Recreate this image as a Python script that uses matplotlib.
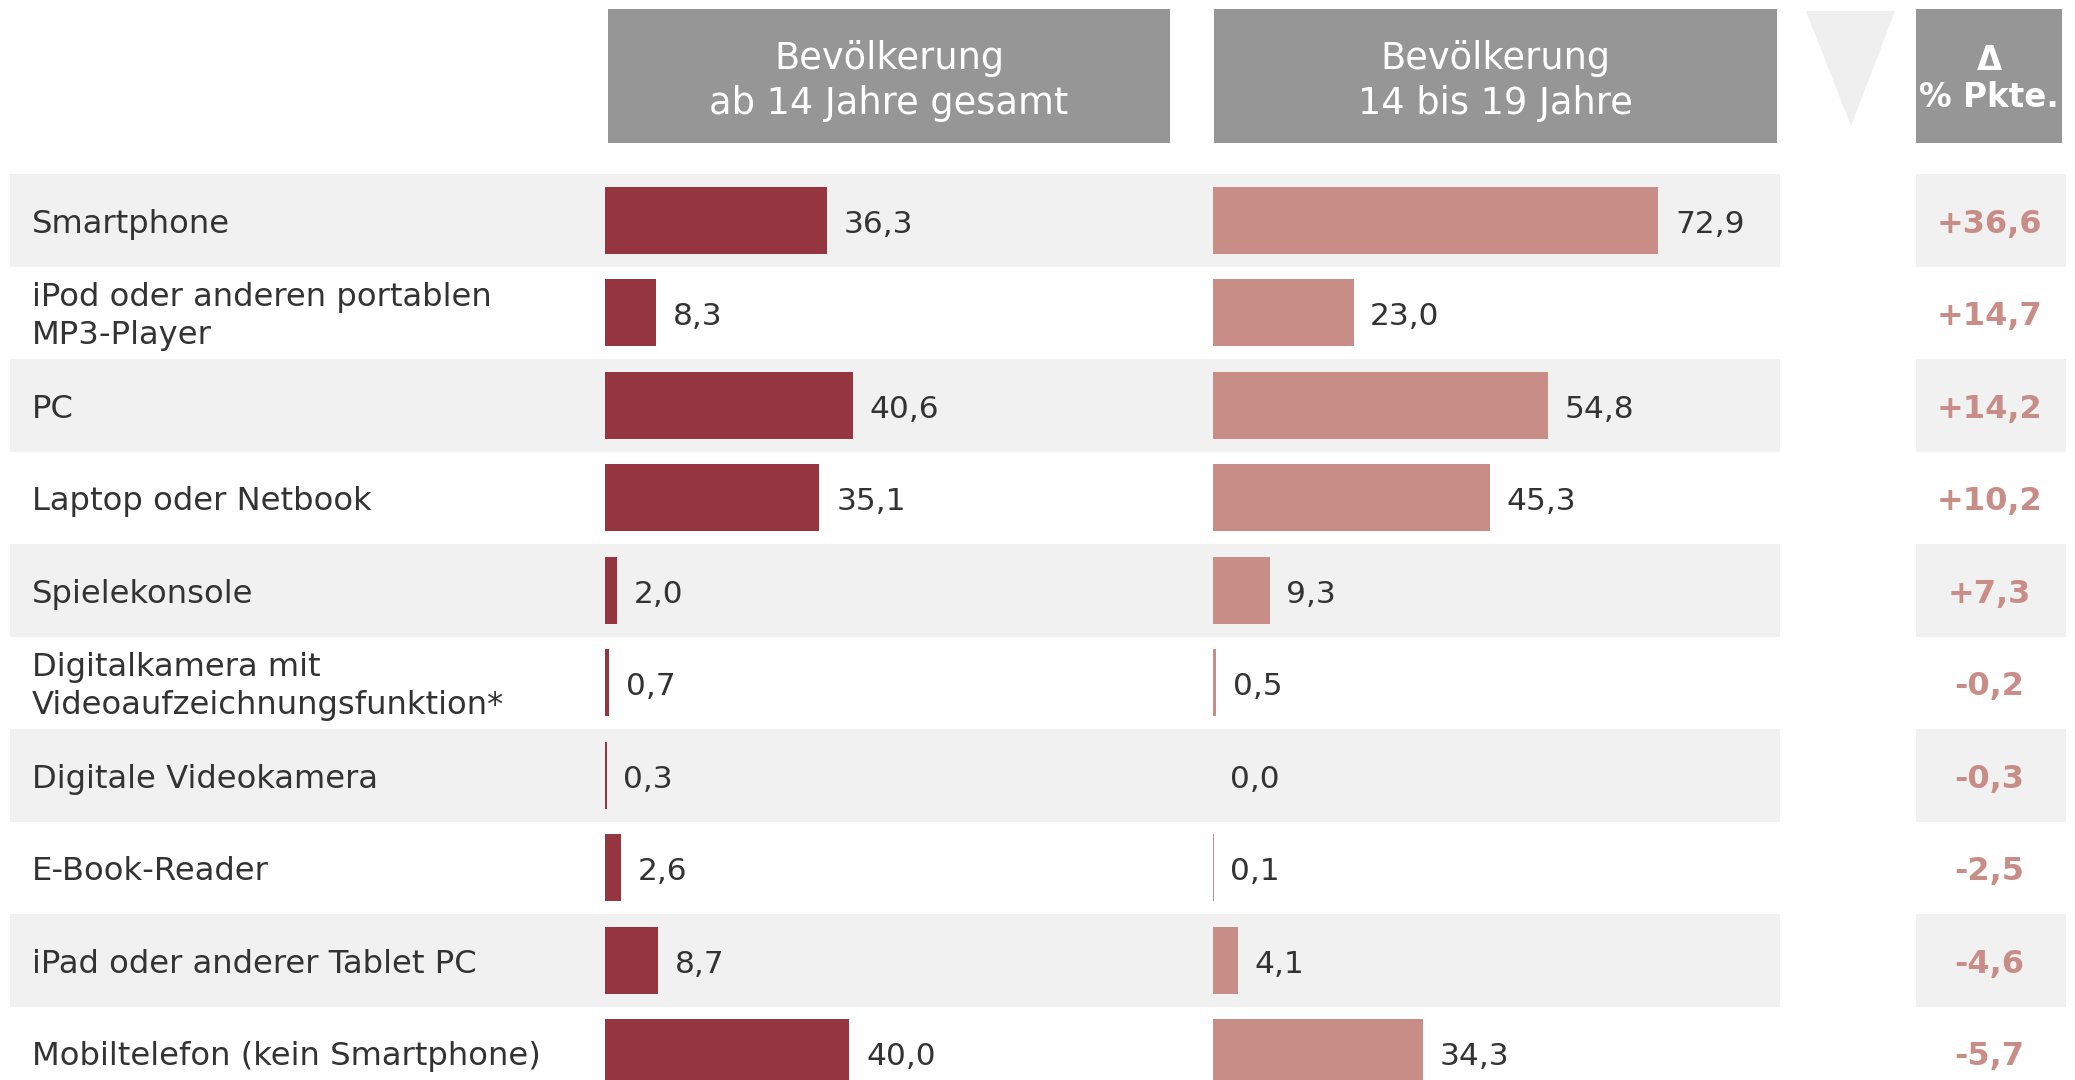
import matplotlib.pyplot as plt
from matplotlib.patches import Rectangle, Polygon

categories = [
    'Smartphone',
    'iPod oder anderen portablen\nMP3-Player',
    'PC',
    'Laptop oder Netbook',
    'Spielekonsole',
    'Digitalkamera mit\nVideoaufzeichnungsfunktion*',
    'Digitale Videokamera',
    'E-Book-Reader',
    'iPad oder anderer Tablet PC',
    'Mobiltelefon (kein Smartphone)',
]
gesamt = [36.3, 8.3, 40.6, 35.1, 2.0, 0.7, 0.3, 2.6, 8.7, 40.0]
jugend = [72.9, 23.0, 54.8, 45.3, 9.3, 0.5, 0.0, 0.1, 4.1, 34.3]
delta = [36.6, 14.7, 14.2, 10.2, 7.3, -0.2, -0.3, -2.5, -4.6, -5.7]
headers = ['Bevölkerung\nab 14 Jahre gesamt', 'Bevölkerung\n14 bis 19 Jahre']

W, H = 2075, 1080
DARK = '#943540'
LIGHT = '#c98d87'
BAND = '#f1f1f1'
HEAD = '#959695'
TXT = '#333333'

plt.rcParams['font.family'] = ['DejaVu Sans']
fig = plt.figure(figsize=(W / 100, H / 100), dpi=100)

# background layer in pixel coordinates
bg = fig.add_axes([0, 0, 1, 1])
bg.set_xlim(0, W)
bg.set_ylim(H, 0)
bg.axis('off')

row_top, row_h = 174, 92.5
n = len(categories)
for i in range(n):
    y0 = row_top + i * row_h
    yc = y0 + row_h / 2 + 4
    if i % 2 == 0:
        bg.add_patch(Rectangle((10, y0), 1770, row_h, color=BAND, lw=0))
        bg.add_patch(Rectangle((1916, y0), 150, row_h, color=BAND, lw=0))
    bg.text(32, yc, categories[i], ha='left', va='center',
            fontsize=23.2, color=TXT, linespacing=1.3)
    bg.text(1989, yc, f'{delta[i]:+.1f}'.replace('.', ','),
            ha='center', va='center', fontsize=23, fontweight='bold', color=LIGHT)

# header boxes
for x0, x1, txt in [(608, 1170, headers[0]), (1214, 1777, headers[1])]:
    bg.add_patch(Rectangle((x0, 9), x1 - x0, 134, color=HEAD, lw=0))
    bg.text((x0 + x1) / 2, 81, txt, ha='center', va='center', fontsize=26.5,
            color='white', linespacing=1.25)
bg.add_patch(Rectangle((1916, 9), 146, 134, color=HEAD, lw=0))
bg.text(1989, 79, 'Δ\n% Pkte.', ha='center', va='center', fontsize=23.5,
        fontweight='bold', color='white', linespacing=1.18)
bg.add_patch(Polygon([(1806, 11), (1895, 11), (1851, 126)], color='#efefef', lw=0))

# bar panels, same scale (px per percent point)
scale = 6.11
y_pos = list(range(n))
for left, right, vals, col in [(605, 1170, gesamt, DARK), (1213, 1780, jugend, LIGHT)]:
    ax = fig.add_axes([left / W, 1 - (row_top + n * row_h) / H,
                       (right - left) / W, n * row_h / H])
    ax.patch.set_alpha(0)
    ax.set_xlim(0, (right - left) / scale)
    ax.set_ylim(n - 0.5, -0.5)
    ax.barh(y_pos, vals, height=0.72, color=col)
    for y, v in zip(y_pos, vals):
        ax.annotate(f'{v:.1f}'.replace('.', ','), (v, y), xytext=(12, -3),
                    textcoords='offset points', ha='left', va='center',
                    fontsize=22.5, color=TXT)
    ax.axis('off')

fig.savefig('out.png', dpi=100)
